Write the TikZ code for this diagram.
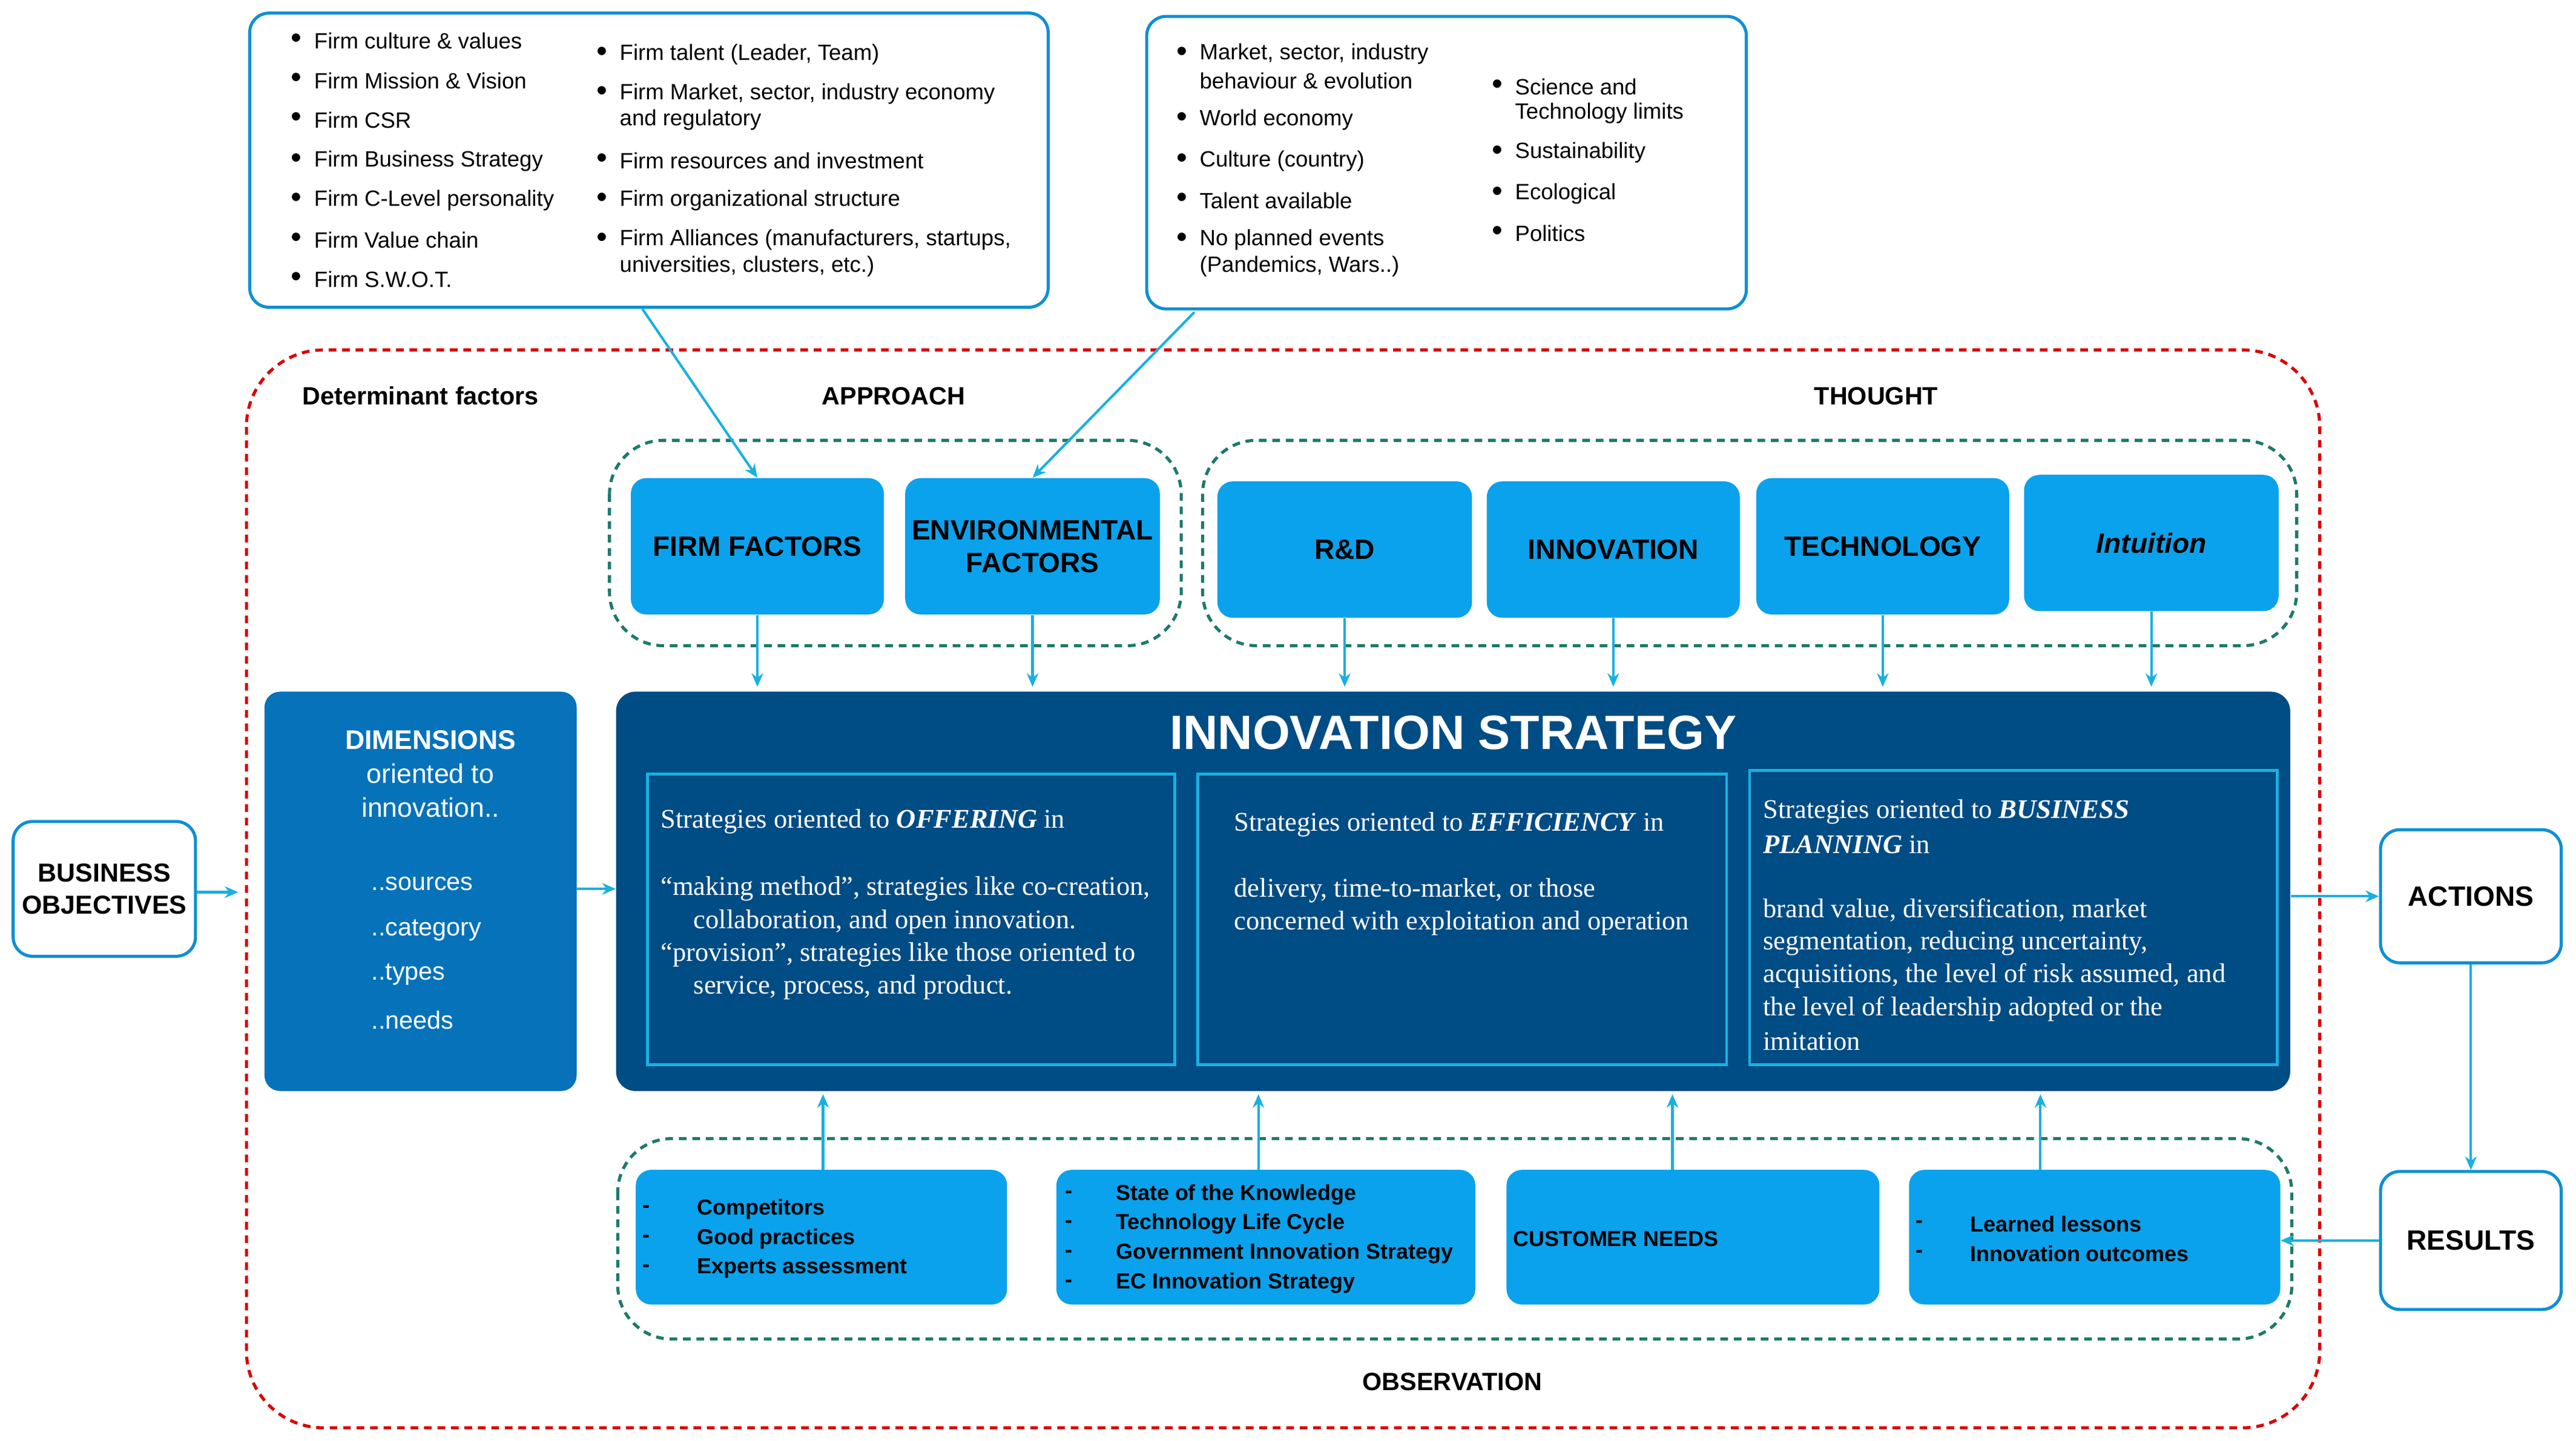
\documentclass[tikz,border=0pt]{standalone}
\usepackage{fontspec}
\setmainfont{Liberation Sans}
\newfontfamily\serifx{Liberation Serif}
\usetikzlibrary{arrows.meta}
\definecolor{bb}{HTML}{0AA2EC}
\definecolor{navy}{HTML}{004C84}
\definecolor{dimc}{HTML}{0672BA}
\definecolor{cyn}{HTML}{19B0E0}
\definecolor{grn}{HTML}{1C7A6A}
\definecolor{frame}{HTML}{0E90D2}
\begin{document}
\begin{tikzpicture}[x=0.03cm,y=-0.03cm,
  ar/.style={draw=cyn,line width=1.3pt,-{Stealth[length=7pt,width=6pt]}},
  blue/.style={fill=bb,draw=none,rounded corners=8pt},
  wbox/.style={draw=frame,line width=1.6pt,rounded corners=10pt,fill=white},
  gd/.style={draw=grn,line width=1.6pt,dash pattern=on 4pt off 3pt,rounded corners=28pt},
  bl/.style={anchor=west,inner sep=0pt,font=\fontsize{11.5}{13}\selectfont},
  bt/.style={anchor=west,inner sep=0pt,font=\fontsize{11.3}{13}\selectfont\bfseries},
  st/.style={anchor=west,inner sep=0pt,text=white,font=\fontsize{14}{15}\selectfont\serifx},
  lab/.style={font=\fontsize{14.5}{17}\selectfont\bfseries,align=center},
  hd/.style={font=\fontsize{13}{15}\selectfont\bfseries}]
\useasboundingbox (0,0) rectangle (1568,877);
\newcommand\bul[3]{\node[bl,font=\fontsize{16}{13}\selectfont] at (#1-1,#2) {\textbullet}; \node[bl] at (#1+13,#2) {#3};}
\newcommand\lin[3]{\node[bl] at (#1+13,#2) {#3};}
% top boxes
\node[wbox,minimum width=486*0.03cm,minimum height=179*0.03cm] (tl) at (395,97.5) {};
\node[wbox,minimum width=365*0.03cm,minimum height=178*0.03cm] (tr) at (880.5,99) {};
\bul{178}{25}{Firm culture \& values}
\bul{178}{49}{Firm Mission \& Vision}
\bul{178}{73}{Firm CSR}
\bul{178}{98}{Firm Business Strategy}
\bul{178}{122}{Firm C-Level personality}
\bul{178}{146}{Firm Value chain}
\bul{178}{170}{Firm S.W.O.T.}
\bul{364}{33}{Firm talent (Leader, Team)}
\bul{364}{57}{Firm Market, sector, industry economy}
\lin{364}{73}{and regulatory}
\bul{364}{98}{Firm resources and investment}
\bul{364}{122}{Firm organizational structure}
\bul{364}{146}{Firm Alliances (manufacturers, startups,}
\lin{364}{162}{universities, clusters, etc.)}
\bul{717}{33}{Market, sector, industry}
\lin{717}{49}{behaviour \& evolution}
\bul{717}{73}{World economy}
\bul{717}{98}{Culture (country)}
\bul{717}{122}{Talent available}
\bul{717}{146}{No planned events}
\lin{717}{162}{(Pandemics, Wars..)}
\bul{909}{53}{Science and}
\lin{909}{69}{Technology limits}
\bul{909}{93}{Sustainability}
\bul{909}{118}{Ecological}
\bul{909}{142}{Politics}
% red frame
\draw[red!85!black,line width=1.6pt,dash pattern=on 4pt off 3pt,rounded corners=40pt] (150,213) rectangle (1412,869);
\node[hd] (df) at (256,241) {Determinant factors};
\node[hd] (ap) at (544,241) {APPROACH};
\node[hd] (th) at (1142,241) {THOUGHT};
\node[hd] (ob) at (884,841) {OBSERVATION};
% green dashed groups
\draw[gd] (371,268) rectangle (719,393);
\draw[gd] (732,268) rectangle (1398,393);
\draw[gd] (376,693) rectangle (1395,815);
% top blue boxes
\newcommand\tb[6]{\node[blue,lab,minimum width=#4*0.03cm,minimum height=#5*0.03cm] (#1) at (#2,#3) {#6};}
\tb{ff}{461}{332.5}{154}{83}{FIRM FACTORS}
\tb{ef}{628.5}{332.5}{155}{83}{ENVIRONMENTAL\\FACTORS}
\tb{rd}{818.5}{334.5}{155}{83}{R\&D}
\tb{in}{982}{334.5}{154}{83}{INNOVATION}
\tb{te}{1146}{332.5}{154}{83}{TECHNOLOGY}
\tb{it}{1309.5}{330.5}{155}{83}{\itshape Intuition}
% strategy box
\node[fill=navy,rounded corners=10pt,minimum width=1019*0.03cm,minimum height=243*0.03cm] (is) at (884.5,542.5) {};
\node[text=white,font=\fontsize{25}{30}\selectfont\bfseries] (ist) at (884.5,446) {INNOVATION STRATEGY};
\draw[cyn,line width=1.5pt] (394,471) rectangle (715,648);
\draw[cyn,line width=1.5pt] (729,471) rectangle (1051,648);
\draw[cyn,line width=1.5pt] (1065,469) rectangle (1386,648);
\node[st] at (402,500) {Strategies oriented to \textbf{\textit{OFFERING}} in};
\node[st] at (402,541) {“making method”, strategies like co-creation,};
\node[st] at (422,561) {collaboration, and open innovation.};
\node[st] at (402,581) {“provision”, strategies like those oriented to};
\node[st] at (422,601) {service, process, and product.};
\node[st] at (751,502) {Strategies oriented to \textbf{\textit{EFFICIENCY}} in};
\node[st] at (751,542) {delivery, time-to-market, or those};
\node[st] at (751,562) {concerned with exploitation and operation};
\node[st] at (1073,494) {Strategies oriented to \textbf{\textit{BUSINESS}}};
\node[st] at (1073,514) {\textbf{\textit{PLANNING}} in};
\node[st] at (1073,554) {brand value, diversification, market};
\node[st] at (1073,574) {segmentation, reducing uncertainty,};
\node[st] at (1073,594) {acquisitions, the level of risk assumed, and};
\node[st] at (1073,614) {the level of leadership adopted or the};
\node[st] at (1073,634) {imitation};
% dimensions
\node[fill=dimc,rounded corners=8pt,minimum width=190*0.03cm,minimum height=243*0.03cm] (dm) at (256,542.5) {};
\node[text=white,align=center,font=\fontsize{14}{17.5}\selectfont] (dmt) at (262,471) {\textbf{DIMENSIONS}\\oriented to\\innovation..};
\node[text=white,anchor=west,font=\fontsize{13}{15}\selectfont] (d1) at (222,538) {..sources};
\node[text=white,anchor=west,font=\fontsize{13}{15}\selectfont] (d2) at (222,566) {..category};
\node[text=white,anchor=west,font=\fontsize{13}{15}\selectfont] (d3) at (222,593) {..types};
\node[text=white,anchor=west,font=\fontsize{13}{15}\selectfont] (d4) at (222,621) {..needs};
% side boxes
\node[wbox,lab,font=\fontsize{13.5}{16.5}\selectfont\bfseries,minimum width=111*0.03cm,minimum height=82*0.03cm] (bo) at (63.5,541) {BUSINESS\\OBJECTIVES};
\node[wbox,lab,minimum width=110*0.03cm,minimum height=81*0.03cm] (ac) at (1504,545.5) {ACTIONS};
\node[wbox,lab,minimum width=110*0.03cm,minimum height=84*0.03cm] (re) at (1504,755) {RESULTS};
% bottom boxes
\node[blue,minimum width=226*0.03cm,minimum height=82*0.03cm] (b1) at (500,753) {};
\node[blue,minimum width=255*0.03cm,minimum height=82*0.03cm] (b2) at (770.5,753) {};
\node[blue,minimum width=227*0.03cm,minimum height=82*0.03cm] (b3) at (1030.5,753) {};
\node[blue,minimum width=226*0.03cm,minimum height=82*0.03cm] (b4) at (1275,753) {};
\newcommand\dl[4]{\node[bt] at (#1,#3) {-}; \node[bt] at (#2,#3) {#4};}
\dl{391}{424}{736}{Competitors}
\dl{391}{424}{754}{Good practices}
\dl{391}{424}{772}{Experts assessment}
\dl{648}{679}{727}{State of the Knowledge}
\dl{648}{679}{745}{Technology Life Cycle}
\dl{648}{679}{763}{Government Innovation Strategy}
\dl{648}{679}{781}{EC Innovation Strategy}
\node[bt] at (921,754) {CUSTOMER NEEDS};
\dl{1166}{1199}{745}{Learned lessons}
\dl{1166}{1199}{763}{Innovation outcomes}
% connectors
\coordinate (tla) at (391,188); \coordinate (tra) at (727,190);
\draw[ar] (tla) -- (ff.north);
\draw[ar] (tra) -- (ef.north);
\foreach \n in {ff,ef,rd,in,te,it}{\draw[ar] (\n.south) -- (\n.south |- 0,418);}
\draw[ar] (dm.east |- 0,541) -- (is.west |- 0,541);
\coordinate (bo2) at (145,543);
\draw[ar] (bo.east |- 0,543) -- (bo2);
\draw[ar] (is.east |- 0,545.5) -- (ac.west);
\draw[ar] (ac.south) -- (re.north);
\draw[ar] (re.west) -- (b4.east |- re.west);
\draw[ar] (501,712) -- (501,666);
\draw[ar] (766,712) -- (766,666);
\draw[ar] (1018,712) -- (1018,666);
\draw[ar] (1242,712) -- (1242,666);
\end{tikzpicture}
\end{document}
